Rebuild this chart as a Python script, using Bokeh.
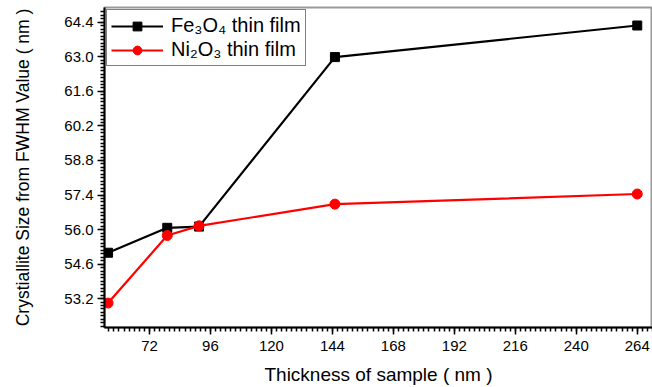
from bokeh.plotting import figure
from bokeh.models import Range1d, FixedTicker, Legend, LegendItem, CustomJSTickFormatter
from bokeh.embed import file_html
from bokeh.resources import INLINE

thickness = [55.7, 79, 91.5, 145, 264]
fe3o4 = [55.06, 56.07, 56.12, 62.99, 64.27]
ni2o3 = [53.02, 55.76, 56.15, 57.03, 57.44]
x_ticks = [72, 96, 120, 144, 168, 192, 216, 240, 264]
y_ticks = [53.2, 54.6, 56.0, 57.4, 58.8, 60.2, 61.6, 63.0, 64.4]

FONT = "Liberation Sans"

p = figure(width=652, height=387, output_backend="svg", toolbar_location=None,
           x_range=Range1d(54.3, 270), y_range=Range1d(52.03, 65.0),
           min_border_left=104, min_border_right=0, min_border_top=7, min_border_bottom=0)
p.xgrid.visible = False
p.ygrid.visible = False
p.outline_line_color = "#999999"
p.outline_line_width = 2
p.background_fill_color = "white"
p.border_fill_color = "white"

for ax in (p.xaxis[0], p.yaxis[0]):
    ax.axis_line_color = "black"
    ax.axis_line_width = 2
    ax.major_tick_line_color = "black"
    ax.major_tick_line_width = 1.5
    ax.minor_tick_line_color = "black"
    ax.minor_tick_line_width = 1.5
    ax.major_tick_in = 0
    ax.major_tick_out = 7
    ax.minor_tick_in = 0
    ax.minor_tick_out = 4
    ax.major_label_text_font = FONT
    ax.major_label_text_font_size = "15px"
    ax.major_label_text_color = "black"
    ax.axis_label_text_font = FONT
    ax.axis_label_text_font_style = "normal"
    ax.axis_label_text_color = "black"

p.xaxis.axis_label_text_font_size = "19px"
p.yaxis.axis_label_text_font_size = "17.5px"
p.xaxis.ticker = FixedTicker(ticks=x_ticks, minor_ticks=list(range(56, 272, 2)))
p.yaxis.ticker = FixedTicker(ticks=y_ticks,
                             minor_ticks=[round(52.08 + 0.14 * i, 2) for i in range(92)])
p.yaxis.formatter = CustomJSTickFormatter(code="return tick.toFixed(1);")
p.xaxis.axis_label = "Thickness of sample ( nm )"
p.yaxis.axis_label = "Crystiallite Size from FWHM Value ( nm )"
p.xaxis.major_label_standoff = 6
p.yaxis.major_label_standoff = 4
p.xaxis.axis_label_standoff = 10
p.yaxis.axis_label_standoff = 28

l1 = p.line(thickness, fe3o4, line_color="black", line_width=2.2)
m1 = p.scatter(thickness, fe3o4, marker="square", size=9, fill_color="black", line_color="black")
l2 = p.line(thickness, ni2o3, line_color="#ff0000", line_width=2.2)
m2 = p.scatter(thickness, ni2o3, marker="circle", size=10, fill_color="#ff0000", line_color="#ff0000")

legend = Legend(items=[LegendItem(label="Fe\u2083O\u2084 thin film", renderers=[l1, m1]),
                       LegendItem(label="Ni\u2082O\u2083 thin film", renderers=[l2, m2])],
                location="top_left")
legend.label_text_font = FONT
legend.label_text_font_size = "20px"
legend.label_text_color = "black"
legend.border_line_color = "black"
legend.border_line_width = 1
legend.glyph_width = 52
legend.glyph_height = 22
legend.label_height = 22
legend.label_standoff = 8
legend.spacing = 1
legend.padding = 4
legend.margin = 2
legend.background_fill_alpha = 1
p.add_layout(legend)

open("out.html", "w").write(file_html(p, INLINE))
